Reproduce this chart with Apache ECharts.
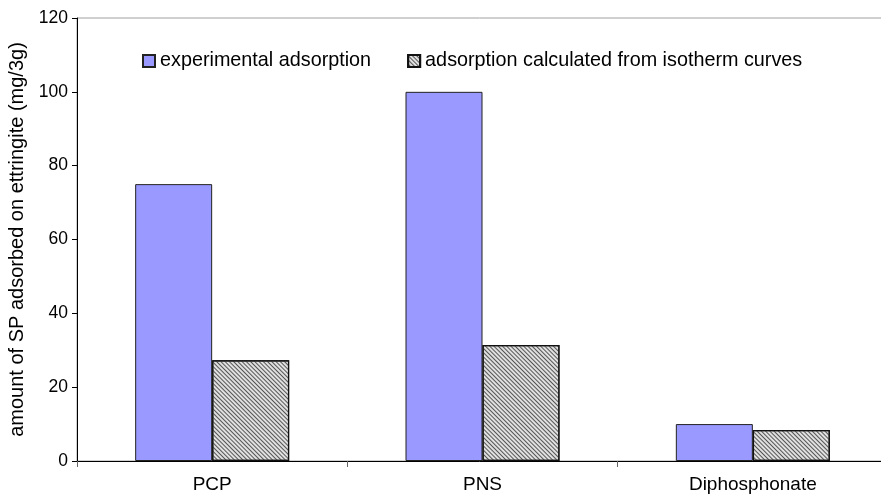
<!DOCTYPE html>
<html>
<head>
<meta charset="utf-8">
<script src="https://cdn.jsdelivr.net/npm/echarts@6/dist/echarts.min.js"></script>
<style>html,body{margin:0;padding:0;background:#fff;}#c{width:881px;height:499px;}</style>
</head>
<body>
<div id="c"></div>
<script>
const categories = ['PCP', 'PNS', 'Diphosphonate'];
const experimental = [75, 100, 10];
const calculated = [27.3, 31.4, 8.4];
const seriesNames = ['experimental adsorption', 'adsorption calculated from isotherm curves'];
const yTicks = { min: 0, max: 120, interval: 20 };
const yTitle = 'amount of SP adsorbed on ettringite (mg/3g)';

const FONT = 'Liberation Sans, Arial, sans-serif';
const chart = echarts.init(document.getElementById('c'), null, { renderer: 'canvas' });
const hatch = {
  symbol: 'rect',
  symbolSize: 1,
  dashArrayX: [1, 0],
  dashArrayY: [1, 1.5],
  rotation: Math.PI / 4,
  color: '#555555'
};
chart.setOption({
  animation: false,
  backgroundColor: '#ffffff',
  grid: { left: 77, top: 18, width: 811, height: 443, outerBoundsMode: 'none', containLabel: false, show: true, borderColor: '#a0a0a0', borderWidth: 1, backgroundColor: 'transparent' },
  legend: {
    left: 137, top: 46,
    itemWidth: 12, itemHeight: 12, itemGap: 36,
    icon: 'rect',
    textStyle: { fontFamily: FONT, fontSize: 19.8, color: '#000', padding: [0, 0, 0, 0] },
    data: seriesNames
  },
  xAxis: {
    type: 'category',
    data: categories,
    boundaryGap: true,
    axisLine: { lineStyle: { color: '#000', width: 1 } },
    axisTick: { show: true, length: 6, lineStyle: { color: '#666' } },
    axisLabel: { fontFamily: FONT, fontSize: 19, color: '#000', margin: 14 },
    splitLine: { show: false }
  },
  yAxis: {
    type: 'value',
    min: yTicks.min, max: yTicks.max, interval: yTicks.interval,
    name: yTitle,
    nameLocation: 'middle',
    nameGap: 50,
    nameRotate: 90,
    nameTextStyle: { fontFamily: FONT, fontSize: 20, color: '#000' },
    axisLine: { show: true, lineStyle: { color: '#000', width: 1 } },
    axisTick: { show: true, length: 5, lineStyle: { color: '#000' } },
    axisLabel: { fontFamily: FONT, fontSize: 17.5, color: '#000', margin: 9 },
    splitLine: { show: false }
  },
  series: [
    {
      name: seriesNames[0], type: 'bar', data: experimental,
      barWidth: 77, barGap: '0%',
      itemStyle: { color: '#9999ff', borderColor: '#222', borderWidth: 1 }
    },
    {
      name: seriesNames[1], type: 'bar', data: calculated,
      barWidth: 77, barGap: '0%',
      itemStyle: { color: '#e0e0e0', borderColor: '#111', borderWidth: 1.2, decal: hatch }
    }
  ]
});
</script>
</body>
</html>
